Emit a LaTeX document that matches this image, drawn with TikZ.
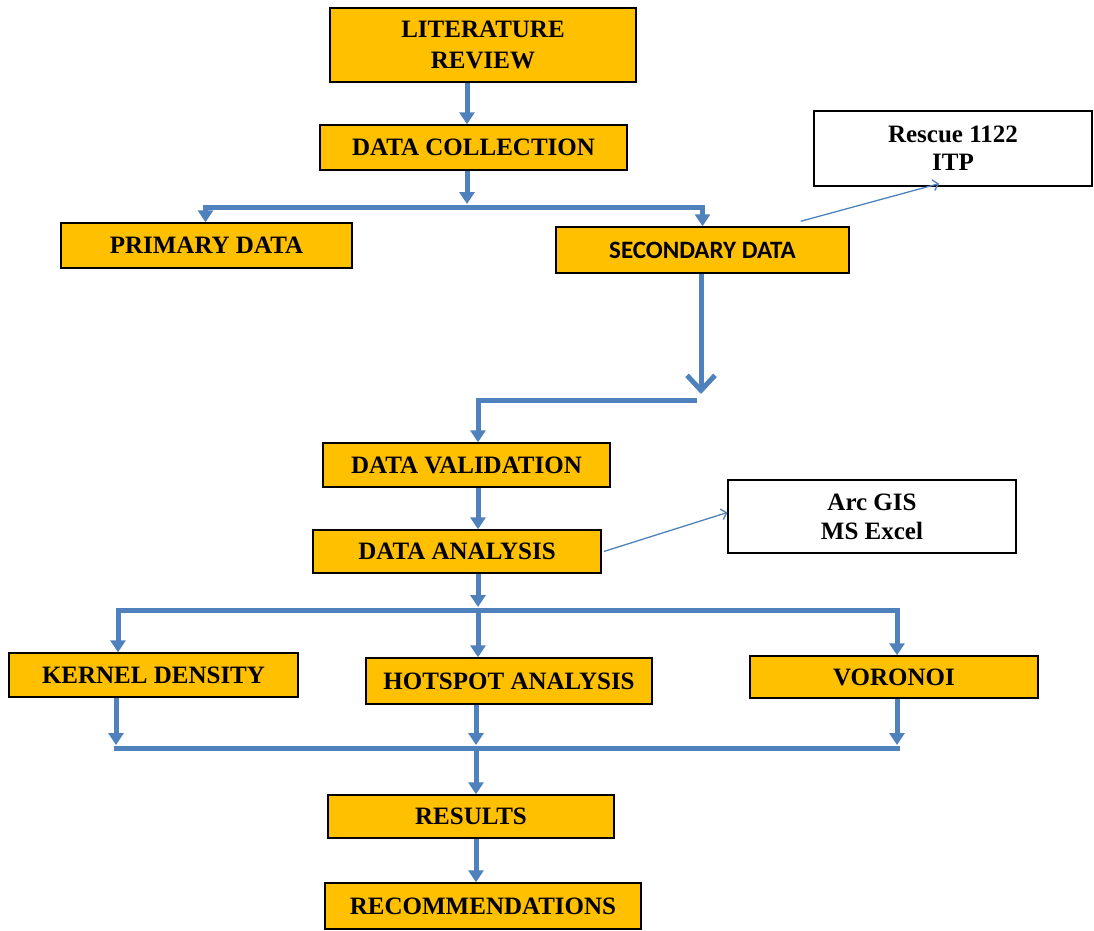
\documentclass[tikz,border=0pt]{standalone}
\usepackage{fontspec}
\setmainfont{Liberation Serif}
\newfontfamily\calibfont{Carlito}
\usetikzlibrary{arrows.meta}
\definecolor{boxfill}{HTML}{FFC000}
\definecolor{flowblue}{HTML}{4F81BD}
\begin{document}
\begin{tikzpicture}[x=1pt,y=-1pt]
                        \tikzstyle{step box}=[draw=black,line width=1.5pt,fill=boxfill,rectangle,inner sep=0pt,align=center,font=\fontsize{25}{31}\selectfont\bfseries]
                        \tikzstyle{tool box}=[draw=black,line width=1.3pt,fill=white,rectangle,inner sep=0pt,align=center,font=\fontsize{25}{28}\selectfont\bfseries]
                        \tikzstyle{flow}=[draw=flowblue,line width=5pt]
                        \tikzstyle{flow arrow}=[flow,-{Triangle[length=12pt,width=15pt]}]
                        \tikzstyle{big arrow}=[flow,-{Straight Barb[length=15pt,width=28pt]}]
                        \tikzstyle{thin arrow}=[draw=flowblue,line width=1.3pt,-{Straight Barb[length=5pt,width=11pt]}]
                        \useasboundingbox (0,0) rectangle (1094,930);
                        \node[step box,minimum width=306pt,minimum height=74pt] (lit) at (483,45) {LITERATURE\\REVIEW};
                        \node[step box,minimum width=307pt,minimum height=45pt] (coll) at (473.5,147.5) {DATA COLLECTION};
                        \node[step box,minimum width=291pt,minimum height=45pt] (prim) at (206.5,245.5) {PRIMARY DATA};
                        \node[step box,minimum width=293pt,minimum height=46pt,font=\fontsize{25}{28}\selectfont\calibfont\bfseries] (sec) at (702.5,250) {SECONDARY DATA};
                        \node[tool box,minimum width=278pt,minimum height=75pt] (resc) at (953,148.5) {Rescue 1122\\ITP};
                        \node[step box,minimum width=287pt,minimum height=44pt] (valid) at (466.5,465) {DATA VALIDATION};
                        \node[step box,minimum width=288pt,minimum height=43pt] (anal) at (457,551.5) {DATA ANALYSIS};
                        \node[tool box,minimum width=288pt,minimum height=73pt,font=\fontsize{25}{29}\selectfont\bfseries] (tools) at (872,516.5) {Arc GIS\\MS Excel};
                        \node[step box,minimum width=289pt,minimum height=44pt] (kern) at (153.5,675) {KERNEL DENSITY};
                        \node[step box,minimum width=286pt,minimum height=46pt] (hot) at (509,681) {HOTSPOT ANALYSIS};
                        \node[step box,minimum width=288pt,minimum height=42pt] (vor) at (894,677) {VORONOI};
                        \node[step box,minimum width=286pt,minimum height=43pt] (res) at (471,816.5) {RESULTS};
                        \node[step box,minimum width=316pt,minimum height=46pt] (rec) at (483,906) {RECOMMENDATIONS};
                        \coordinate (split1) at (467,207);
                        \coordinate (split2) at (701,400);
                        \coordinate (split3) at (478,610);
                        \coordinate (mergeL) at (116,748);
                        \coordinate (merge) at (476,748);
                        \coordinate (mergeR) at (897,748);
                        \draw[flow arrow] ([xshift=-16pt]lit.south) -- ([xshift=-16pt]lit.south |- coll.north);
                        \draw[flow arrow] (coll.south -| split1) -- ([yshift=3pt]split1);
                        \draw[flow arrow] (split1) -| ([xshift=-1pt]prim.north);
                        \draw[flow arrow] (split1) -| (sec.north);
                        \draw[big arrow] ([xshift=-1.5pt]sec.south) -- ([yshift=6pt]split2);
                        \draw[flow arrow] ([xshift=-4pt]split2) -| ([xshift=11.5pt]valid.north);
                        \draw[thin arrow] ([xshift=-49pt,yshift=5pt]sec.north east) -- ([xshift=-14pt,yshift=3pt]resc.south);
                        \draw[flow arrow] ([xshift=11.5pt]valid.south) -- ([xshift=11.5pt]valid.south |- anal.north);
                        \draw[thin arrow] ([xshift=2pt]anal.east) -- ([yshift=4pt]tools.west);
                        \draw[flow arrow] (anal.south -| split3) -- ([yshift=3pt]split3);
                        \draw[flow arrow] (split3) -| ([xshift=-35.5pt]kern.north);
                        \draw[flow arrow] (split3) -- (split3 |- hot.north);
                        \draw[flow arrow] (split3) -| ([xshift=3pt]vor.north);
                        \draw[flow arrow] (kern.south -| mergeL) -- ([yshift=3pt]mergeL);
                        \draw[flow arrow] (hot.south -| merge) -- ([yshift=3pt]merge);
                        \draw[flow arrow] (vor.south -| mergeR) -- ([yshift=3pt]mergeR);
                        \draw[flow] ([xshift=-2.5pt]mergeL) -- ([xshift=2.5pt]mergeR);
                        \draw[flow arrow] (merge) -- (merge |- res.north);
                        \draw[flow arrow] (res.south -| merge) -- (rec.north -| merge);
                    \end{tikzpicture}
\end{document}
